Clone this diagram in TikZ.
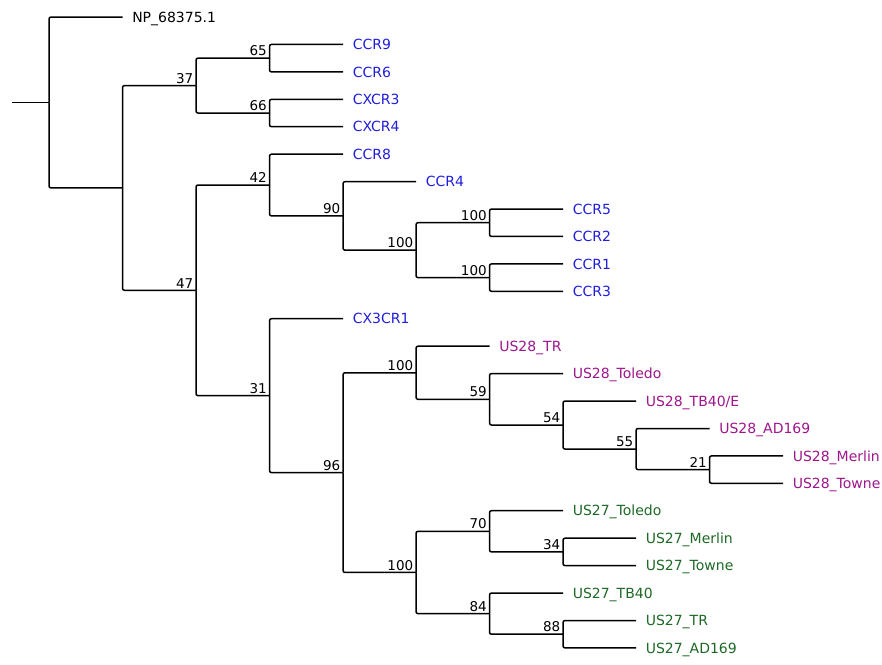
\documentclass[tikz,border=0pt]{standalone}
\usepackage{fontspec}
\setmainfont{DejaVu Sans}
\definecolor{ccrblue}{RGB}{32,30,218}
\definecolor{usmag}{RGB}{158,22,140}
\definecolor{usgreen}{RGB}{30,105,38}

\begin{document}
\begin{tikzpicture}[x=1pt, y=-1pt, line width=1.5pt,
	branch/.style={draw, rounded corners=2pt},
	leaf/.style={anchor=west, inner xsep=9pt, inner ysep=0pt, text height=10.2pt, text depth=0pt, font=\fontsize{14}{16}\selectfont},
	boot/.style={anchor=south east, inner xsep=2pt, inner ysep=1.5pt, font=\fontsize{13.5}{15}\selectfont}]
	\useasboundingbox (0,0) rectangle (882,664);
	% inner nodes of the cladogram
	\coordinate (stub) at (12,102.5);
	\coordinate (root) at (49,102.5);
	\coordinate (nA) at (122.5,187.95);
	\coordinate (nB) at (196,85.6);
	\coordinate (nC) at (196,290.3);
	\coordinate (nD) at (269.5,58.15);
	\coordinate (nE) at (269.5,113.0);
	\coordinate (nF) at (269.5,185.0);
	\coordinate (nG) at (269.5,395.65);
	\coordinate (nH) at (343,215.9);
	\coordinate (nI) at (416,250.15);
	\coordinate (nJ) at (489.5,222.7);
	\coordinate (nK) at (489.5,277.6);
	\coordinate (nL) at (343,472.6);
	\coordinate (nM) at (416,372.75);
	\coordinate (nN) at (416,572.45);
	\coordinate (nO) at (489.5,399.3);
	\coordinate (nP) at (563,425.0);
	\coordinate (nQ) at (636,449.05);
	\coordinate (nR) at (709.5,469.6);
	\coordinate (nS) at (489.5,531.3);
	\coordinate (nT) at (489.5,613.6);
	\coordinate (nU) at (563,551.9);
	\coordinate (nV) at (563,634.2);
	% leaves
	\node[leaf] (np) at (122.5,17.0) {NP\_68375.1};
	\node[leaf, ccrblue] (ccr9) at (343,44.4) {CCR9};
	\node[leaf, ccrblue] (ccr6) at (343,71.9) {CCR6};
	\node[leaf, ccrblue] (cxcr3) at (343,99.3) {CXCR3};
	\node[leaf, ccrblue] (cxcr4) at (343,126.7) {CXCR4};
	\node[leaf, ccrblue] (ccr8) at (343,154.2) {CCR8};
	\node[leaf, ccrblue] (ccr4) at (416,181.6) {CCR4};
	\node[leaf, ccrblue] (ccr5) at (563,209.0) {CCR5};
	\node[leaf, ccrblue] (ccr2) at (563,236.4) {CCR2};
	\node[leaf, ccrblue] (ccr1) at (563,263.9) {CCR1};
	\node[leaf, ccrblue] (ccr3) at (563,291.3) {CCR3};
	\node[leaf, ccrblue] (cx3cr1) at (343,318.7) {CX3CR1};
	\node[leaf, usmag] (tr28) at (489.5,346.2) {US28\_TR};
	\node[leaf, usmag] (toledo28) at (563,373.6) {US28\_Toledo};
	\node[leaf, usmag] (tb28) at (636,401.0) {US28\_TB40/E};
	\node[leaf, usmag] (ad28) at (709.5,428.5) {US28\_AD169};
	\node[leaf, usmag] (merlin28) at (783,455.9) {US28\_Merlin};
	\node[leaf, usmag] (towne28) at (783,483.3) {US28\_Towne};
	\node[leaf, usgreen] (toledo27) at (563,510.7) {US27\_Toledo};
	\node[leaf, usgreen] (merlin27) at (636,538.2) {US27\_Merlin};
	\node[leaf, usgreen] (towne27) at (636,565.6) {US27\_Towne};
	\node[leaf, usgreen] (tb27) at (563,593.0) {US27\_TB40};
	\node[leaf, usgreen] (tr27) at (636,620.5) {US27\_TR};
	\node[leaf, usgreen] (ad27) at (636,647.9) {US27\_AD169};
	% branches
	\draw (stub) -- (root);
	\draw[branch] (root) |- (np.west);
	\draw[branch] (root) |- (nA);
	\draw[branch] (nA) |- (nB);
	\draw[branch] (nA) |- (nC);
	\draw[branch] (nB) |- (nD);
	\draw[branch] (nB) |- (nE);
	\draw[branch] (nD) |- (ccr9.west);
	\draw[branch] (nD) |- (ccr6.west);
	\draw[branch] (nE) |- (cxcr3.west);
	\draw[branch] (nE) |- (cxcr4.west);
	\draw[branch] (nC) |- (nF);
	\draw[branch] (nC) |- (nG);
	\draw[branch] (nF) |- (ccr8.west);
	\draw[branch] (nF) |- (nH);
	\draw[branch] (nH) |- (ccr4.west);
	\draw[branch] (nH) |- (nI);
	\draw[branch] (nI) |- (nJ);
	\draw[branch] (nI) |- (nK);
	\draw[branch] (nJ) |- (ccr5.west);
	\draw[branch] (nJ) |- (ccr2.west);
	\draw[branch] (nK) |- (ccr1.west);
	\draw[branch] (nK) |- (ccr3.west);
	\draw[branch] (nG) |- (cx3cr1.west);
	\draw[branch] (nG) |- (nL);
	\draw[branch] (nL) |- (nM);
	\draw[branch] (nL) |- (nN);
	\draw[branch] (nM) |- (tr28.west);
	\draw[branch] (nM) |- (nO);
	\draw[branch] (nO) |- (toledo28.west);
	\draw[branch] (nO) |- (nP);
	\draw[branch] (nP) |- (tb28.west);
	\draw[branch] (nP) |- (nQ);
	\draw[branch] (nQ) |- (ad28.west);
	\draw[branch] (nQ) |- (nR);
	\draw[branch] (nR) |- (merlin28.west);
	\draw[branch] (nR) |- (towne28.west);
	\draw[branch] (nN) |- (nS);
	\draw[branch] (nN) |- (nT);
	\draw[branch] (nS) |- (toledo27.west);
	\draw[branch] (nS) |- (nU);
	\draw[branch] (nU) |- (merlin27.west);
	\draw[branch] (nU) |- (towne27.west);
	\draw[branch] (nT) |- (tb27.west);
	\draw[branch] (nT) |- (nV);
	\draw[branch] (nV) |- (tr27.west);
	\draw[branch] (nV) |- (ad27.west);
	% bootstrap values
	\node[boot] (bB) at (nB) {37};
	\node[boot] (bC) at (nC) {47};
	\node[boot] (bD) at (nD) {65};
	\node[boot] (bE) at (nE) {66};
	\node[boot] (bF) at (nF) {42};
	\node[boot] (bG) at (nG) {31};
	\node[boot] (bH) at (nH) {90};
	\node[boot] (bI) at (nI) {100};
	\node[boot] (bJ) at (nJ) {100};
	\node[boot] (bK) at (nK) {100};
	\node[boot] (bL) at (nL) {96};
	\node[boot] (bM) at (nM) {100};
	\node[boot] (bN) at (nN) {100};
	\node[boot] (bO) at (nO) {59};
	\node[boot] (bP) at (nP) {54};
	\node[boot] (bQ) at (nQ) {55};
	\node[boot] (bR) at (nR) {21};
	\node[boot] (bS) at (nS) {70};
	\node[boot] (bT) at (nT) {84};
	\node[boot] (bU) at (nU) {34};
	\node[boot] (bV) at (nV) {88};
\end{tikzpicture}
\end{document}
